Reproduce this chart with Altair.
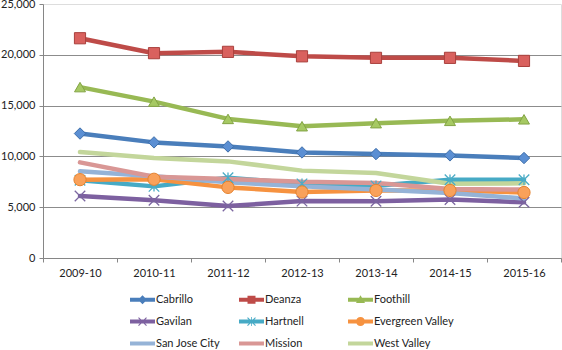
import altair as alt
import pandas as pd

years = ["2009-10", "2010-11", "2011-12", "2012-13", "2013-14", "2014-15", "2015-16"]
colleges = ["Cabrillo", "Deanza", "Foothill", "Gavilan", "Hartnell",
            "Evergreen Valley", "San Jose City", "Mission", "West Valley"]

cabrillo = [12250, 11380, 10980, 10390, 10230, 10100, 9840]
deanza = [21630, 20160, 20290, 19850, 19700, 19700, 19400]
foothill = [16820, 15390, 13690, 12970, 13270, 13500, 13650]
gavilan = [6100, 5680, 5120, 5600, 5580, 5750, 5480]
hartnell = [7650, 7050, 7900, 7300, 7100, 7700, 7700]
evergreen = [7710, 7750, 6950, 6500, 6650, 6650, 6450]
sanjose = [8530, 8050, 7450, 7050, 6750, 6400, 5850]
mission = [9410, 8000, 7780, 7500, 7390, 6800, 6730]
westvalley = [10430, 9840, 9510, 8600, 8370, 7300, 7350]

series = [cabrillo, deanza, foothill, gavilan, hartnell, evergreen, sanjose, mission, westvalley]

line_colors = ["#4A7EBB", "#BE4B48", "#98B954", "#7D60A0", "#46AAC5",
               "#F69240", "#95B3D7", "#D99795", "#C3D69B"]

rows = []
for name, vals in zip(colleges, series):
    for yr, v in zip(years, vals):
        rows.append({"year": yr, "college": name, "value": v})
df = pd.DataFrame(rows)

FONT = "Lato"

# legend symbol shapes (line with marker)
LINE = "M-1,-0.16L1,-0.16L1,0.16L-1,0.16Z"
DIAM = "M0,-0.36L0.36,0L0,0.36L-0.36,0Z"
SQR = "M-0.32,-0.32L0.32,-0.32L0.32,0.32L-0.32,0.32Z"
TRI = "M0,-0.36L0.36,0.26L-0.36,0.26Z"
CIRC = "M-0.36,0A0.36,0.36,0,1,1,0.36,0A0.36,0.36,0,1,1,-0.36,0Z"
X1 = "M-0.29,-0.35L0.35,0.29L0.29,0.35L-0.35,-0.29Z"
X2 = "M0.35,-0.29L-0.29,0.35L-0.35,0.29L0.29,-0.35Z"
VB = "M-0.03,-0.36L0.03,-0.36L0.03,0.36L-0.03,0.36Z"
legend_shapes = [LINE + DIAM, LINE + SQR, LINE + TRI, LINE + X1 + X2, LINE + X1 + X2 + VB,
                 LINE + CIRC, LINE, LINE, LINE]

leg = alt.Legend(
    orient="none", legendX=87, legendY=283, columns=3, direction="horizontal",
    gridAlign="all", columnPadding=2, rowPadding=4, labelOffset=1, symbolSize=625,
    symbolStrokeWidth=0, symbolOpacity=1, title=None,
    labelFont=FONT, labelFontSize=11, labelColor="#222222",
)

x_enc = alt.X("year:N", sort=years,
              scale=alt.Scale(type="band", paddingInner=0, paddingOuter=0),
              axis=alt.Axis(title=None, labelAngle=0, tickBand="extent", grid=False,
                            domainColor="#868686", tickColor="#868686", tickSize=4,
                            labelFont=FONT, labelFontSize=11, labelColor="#222222",
                            labelPadding=5))
y_enc = alt.Y("value:Q",
              scale=alt.Scale(domain=[0, 25000], nice=False),
              axis=alt.Axis(title=None, values=[0, 5000, 10000, 15000, 20000, 25000],
                            format=",d", grid=True, gridColor="#8C8C8C", gridWidth=1,
                            gridOpacity=alt.condition(alt.datum.value >= 25000, alt.value(0), alt.value(1)),
                            domainColor="#868686", tickColor="#868686", tickSize=4,
                            labelFont=FONT, labelFontSize=11, labelColor="#222222",
                            labelPadding=4))
color_enc = alt.Color("college:N", title=None, legend=leg,
                      scale=alt.Scale(domain=colleges, range=line_colors))

base = alt.Chart(df)

legend_layer = base.mark_point(filled=True, opacity=0).encode(
    x=x_enc, y=y_enc, color=color_enc,
    shape=alt.Shape("college:N", title=None, legend=leg,
                    scale=alt.Scale(domain=colleges, range=legend_shapes)),
)

lines = base.mark_line(strokeWidth=4.5, strokeJoin="round", strokeCap="round").encode(
    x=x_enc, y=y_enc, color=color_enc,
    order=alt.Order("year:N"),
)

def marker(name, shape, size, fill, stroke, filled=True, sw=1.0):
    flt = base.transform_filter(alt.datum.college == name)
    if filled:
        m = flt.mark_point(shape=shape, size=size, filled=True, fill=fill,
                           stroke=stroke, strokeWidth=sw, opacity=1)
    else:
        m = flt.mark_point(shape=shape, size=size, filled=False,
                           stroke=stroke, strokeWidth=sw, opacity=1)
    return m.encode(x=x_enc, y=y_enc)

XPATH = "M-1,-1L1,1M1,-1L-1,1"
APATH = "M-1,-1L1,1M1,-1L-1,1M0,-1L0,1"

markers = [
    marker("Cabrillo", "diamond", 130, "#5B8FD3", "#3F6FAA"),
    marker("Deanza", "square", 125, "#D9615E", "#A9403D"),
    marker("Foothill", "triangle-up", 120, "#A6C963", "#83A445"),
    marker("Gavilan", XPATH, 110, None, "#7B66A0", filled=False, sw=1.3),
    marker("Hartnell", APATH, 110, None, "#4BACC6", filled=False, sw=1.3),
    marker("Evergreen Valley", "circle", 150, "#F9A15A", "#E5832F"),
]

chart = alt.layer(legend_layer, lines, *markers).properties(
    width=518, height=254,
    padding={"left": 43, "top": 4, "right": 1, "bottom": 92},
    autosize="none",
).configure_view(stroke=None).configure(background="white")

chart.save("out.html", embed_options={"renderer": "svg", "actions": False})
